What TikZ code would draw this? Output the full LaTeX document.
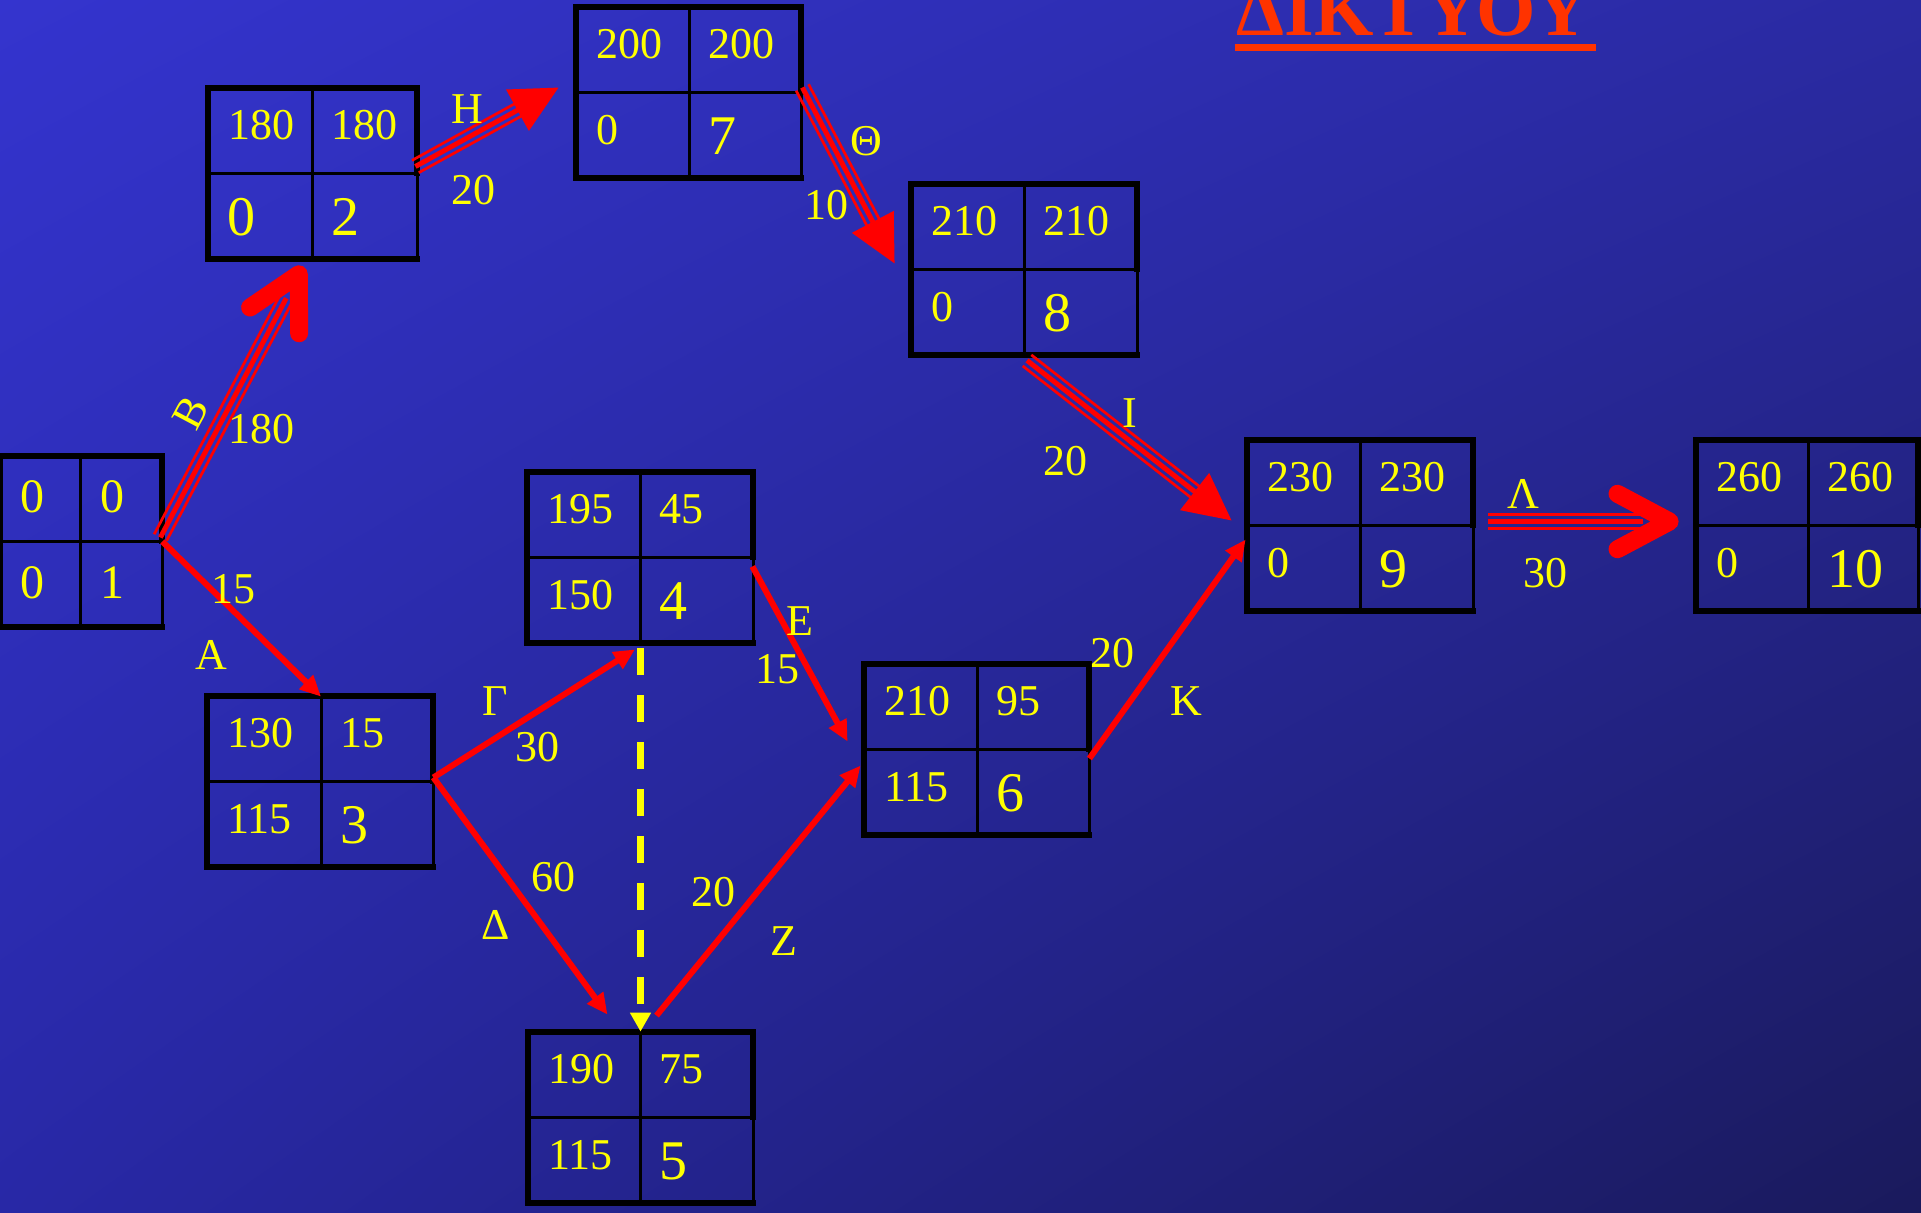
\documentclass[tikz,border=0pt]{standalone}
\usepackage{fontspec}
\setmainfont{Liberation Serif}
\usetikzlibrary{arrows.meta,calc,shadings}
\definecolor{bgUL}{RGB}{52,52,206}
\definecolor{bgUR}{RGB}{42,42,162}
\definecolor{bgLL}{RGB}{40,40,166}
\definecolor{bgLR}{RGB}{26,26,92}
\definecolor{numyel}{RGB}{255,255,0}
\definecolor{arrred}{RGB}{255,0,0}
\definecolor{titlered}{RGB}{255,51,0}

\tikzset{
  pbframe/.style={rectangle, inner sep=0pt, minimum height=85.5pt},
  thinrule/.style={black, line width=1.5pt},
  thickrule/.style={black, line width=2.75pt, line cap=rect, line join=miter},
  numsmall/.style={text=numyel, inner sep=0pt, font=\fontsize{22}{26}\selectfont},
  numbig/.style={text=numyel, inner sep=0pt, font=\fontsize{28}{32}\selectfont},
  numone/.style={text=numyel, inner sep=0pt, font=\fontsize{24}{28}\selectfont},
  lab/.style={text=numyel, inner sep=0pt, font=\fontsize{22}{26}\selectfont},
  thinarrow/.style={arrred, line width=3pt, -{Triangle[length=10.5pt,width=9.5pt]}},
  dasharrow/.style={numyel, line width=3.5pt, dash pattern=on 13.5pt off 10pt, -{Triangle[length=9.5pt,width=10pt]}},
}

% box: name, left, top, divider x, right  (pixel units, y downwards)
\newcommand\pbox[5]{%
  \pgfmathsetmacro\pxL{#2}%
  \pgfmathsetmacro\pxT{#3}%
  \pgfmathsetmacro\pxD{#4}%
  \pgfmathsetmacro\pxR{#5}%
  \pgfmathsetmacro\pxB{#3+171}%
  \pgfmathsetmacro\pxM{#3+85}%
  \node[pbframe, minimum width={(#5-#2)*0.5pt}] (#1) at ({(#2+#5)/2},{#3+85.5}) {};
  \draw[thinrule] (\pxD,\pxT) -- (\pxD,\pxB) (\pxL,\pxM) -- (\pxR,\pxM) (\pxR,\pxM) -- (\pxR,\pxB);
  \draw[thickrule] (\pxR,\pxM) -- (\pxR,\pxT) -- (\pxL,\pxT) -- (\pxL,\pxB) -- (\pxR,\pxB);
  \coordinate (#1-tl) at (\pxL+20,\pxT+51);
  \coordinate (#1-tr) at (\pxD+19,\pxT+51);
  \coordinate (#1-blnumsmall) at (\pxL+20,\pxM+52);
  \coordinate (#1-blnumbig) at (\pxL+19,\pxM+62);
  \coordinate (#1-br) at (\pxD+19,\pxM+62);
}
% texts: name, TL, TR, BL, BR, style of BL
\newcommand\ptext[6]{%
  \node[numsmall, anchor=base west] (#1-a) at (#1-tl) {#2};
  \node[numsmall, anchor=base west] (#1-b) at (#1-tr) {#3};
  \node[#6, anchor=base west] (#1-c) at (#1-bl#6) {#4};
  \node[numbig, anchor=base west] (#1-d) at (#1-br) {#5};
}

\newcommand\tripleline[2]{%
  \draw[arrred, line width=1.35pt] ($(#1)!3.5pt!90:(#2)$) -- ($(#2)!3.5pt!-90:(#1)$);
  \draw[arrred, line width=1.35pt] ($(#1)!3.5pt!-90:(#2)$) -- ($(#2)!3.5pt!90:(#1)$);
}
\newcommand\tripchev[2]{%
  \coordinate (#2v) at ($(#2)!5pt!(#1)$);
  \coordinate (#2e) at ($(#2v)!13.5pt!(#1)$);
  \tripleline{#1}{#2e}
  \draw[arrred, line width=2.5pt] (#1) -- (#2e);
  \draw[arrred, line width=9pt, line cap=round, line join=round]
    ($(#2v)!29.5pt!28:(#1)$) -- (#2v) -- ($(#2v)!29.5pt!-28:(#1)$);
}
\newcommand\triptri[2]{%
  \coordinate (#2e) at ($(#2)!20pt!(#1)$);
  \tripleline{#1}{#2e}
  \draw[arrred, line width=2.5pt, -{Triangle[length=23.5pt,width=23pt]}] (#1) -- (#2);
}

\begin{document}
\begin{tikzpicture}[x=0.5pt,y=-0.5pt]
\useasboundingbox (0,0) rectangle (1921,1212);
\shade[upper left=bgUL, upper right=bgUR, lower left=bgLL, lower right=bgLR] (0,0) rectangle (1921,1212);

% title (cut off at the top edge, as in the reference)
\node[anchor=base west, inner sep=0pt, text=titlered, font=\bfseries\fontsize{38.2}{41}\selectfont] (title) at (1236,35) {ΔΙΚΤΥΟΥ};
\fill[titlered] (1235,44) rectangle (1596,51);

% boxes
\pbox{n1}{0}{456}{80}{162}
\pbox{n2}{208}{88}{312}{417}
\pbox{n3}{207}{696}{321}{433}
\pbox{n4}{527}{472}{640}{753}
\pbox{n5}{528}{1032}{640}{753}
\pbox{n6}{864}{664}{977}{1089}
\pbox{n7}{576}{7}{689}{801}
\pbox{n8}{911}{184}{1024}{1137}
\pbox{n9}{1247}{440}{1360}{1473}
\pbox{n10}{1696}{440}{1808}{1918}

% box texts
\node[numone, anchor=base west] (n1-a) at (20,512) {0};
\node[numone, anchor=base west] (n1-b) at (100,512) {0};
\node[numone, anchor=base west] (n1-c) at (20,598) {0};
\node[numone, anchor=base west] (n1-d) at (100,598) {1};
\ptext{n2}{180}{180}{0}{2}{numbig}
\ptext{n3}{130}{15}{115}{3}{numsmall}
\ptext{n4}{195}{45}{150}{4}{numsmall}
\ptext{n5}{190}{75}{115}{5}{numsmall}
\ptext{n6}{210}{95}{115}{6}{numsmall}
\ptext{n7}{200}{200}{0}{7}{numsmall}
\ptext{n8}{210}{210}{0}{8}{numsmall}
\ptext{n9}{230}{230}{0}{9}{numsmall}
\ptext{n10}{260}{260}{0}{10}{numsmall}

% connector end points
\coordinate (bS) at ([shift={(-2,-4)}]n1.east);
\coordinate (bT) at ([shift={(-9,6)}]n2.south);
\coordinate (hS) at ([shift={(-2,-7)}]n2.east);
\coordinate (hT) at ([shift={(-17,-5)}]n7.west);
\coordinate (tS) at ([shift={(1,-5)}]n7.east);
\coordinate (tT) at ([shift={(-16,-6)}]n8.west);
\coordinate (iS) at ([shift={(3,5)}]n8.south);
\coordinate (iT) at ([shift={(-15,-5)}]n9.west);
\coordinate (lS) at ([shift={(15,-4)}]n9.east);
\coordinate (lT) at ([shift={(-16,-4)}]n10.west);

% critical path (triple arrows)
\tripchev{bS}{bT}
\triptri{hS}{hT}
\triptri{tS}{tT}
\triptri{iS}{iT}
\tripchev{lS}{lT}

% other activities
\draw[thinarrow] (n1.east) -- ([shift={(1,1)}]n3.north);
\draw[thinarrow] ([shift={(0,-4)}]n3.east) -- ([shift={(-5,6)}]n4.south);
\draw[thinarrow] ([shift={(0,-4)}]n3.east) -- ([shift={(-33,-17)}]n5.north);
\draw[thinarrow] ([shift={(16,-16)}]n5.north) -- ([shift={(-3,16)}]n6.west);
\draw[thinarrow] ([shift={(-1,9)}]n4.east) -- ([shift={(-16,-8)}]n6.west);
\draw[thinarrow] ([shift={(0,9)}]n6.east) -- ([shift={(-1,14)}]n9.west);
\draw[dasharrow] ([shift={(0.5,5)}]n4.south) -- (n5.north);

% activity labels
\node[lab, rotate=62] (lbB) at (191,413) {Β};
\node[lab] (lbB2) at (261,429) {180};
\node[lab] (lbA) at (211,655) {Α};
\node[lab] (lbA2) at (233,589) {15};
\node[lab] (lbH) at (467,109) {Η};
\node[lab] (lbH2) at (473,190) {20};
\node[lab] (lbT) at (866,141) {Θ};
\node[lab] (lbT2) at (826,205) {10};
\node[lab] (lbI) at (1130,413) {Ι};
\node[lab] (lbI2) at (1065,461) {20};
\node[lab] (lbL) at (1523,494) {Λ};
\node[lab] (lbL2) at (1545,573) {30};
\node[lab] (lbG) at (495,701) {Γ};
\node[lab] (lbG2) at (537,747) {30};
\node[lab] (lbD) at (496,925) {Δ};
\node[lab] (lbD2) at (553,877) {60};
\node[lab] (lbE) at (800,621) {Ε};
\node[lab] (lbE2) at (777,669) {15};
\node[lab] (lbZ) at (784,941) {Ζ};
\node[lab] (lbZ2) at (713,892) {20};
\node[lab] (lbK) at (1186,701) {Κ};
\node[lab] (lbK2) at (1112,653) {20};
\end{tikzpicture}
\end{document}
